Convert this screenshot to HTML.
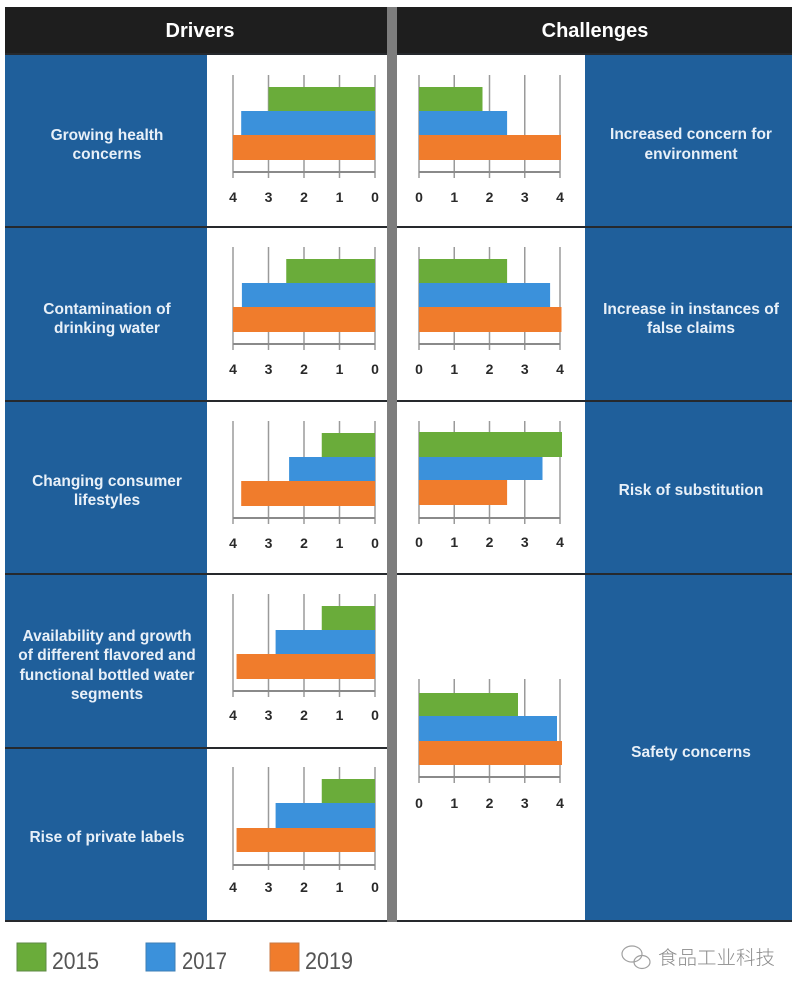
<!DOCTYPE html>
<html><head><meta charset="utf-8"><style>
html,body{margin:0;padding:0;background:#fff;}
svg{display:block;}
.lab{font-family:"Liberation Sans",sans-serif;font-weight:bold;font-size:15.5px;fill:#e8f0f8;text-anchor:middle;}
.hd{font-family:"Liberation Sans",sans-serif;font-weight:bold;font-size:20px;fill:#fff;text-anchor:middle;}
.tk{font-family:"Liberation Sans",sans-serif;font-size:14px;fill:#2a2a2a;text-anchor:middle;font-weight:bold;}
.lg{font-family:"Liberation Sans",sans-serif;font-size:24px;fill:#555;}
.wm{font-family:"Liberation Sans","Noto Sans CJK SC",sans-serif;font-size:19px;fill:#8c8c8c;font-weight:300;}
</style></head><body>
<svg width="800" height="993" viewBox="0 0 800 993" xmlns="http://www.w3.org/2000/svg">
<rect x="0" y="0" width="800" height="993" fill="#fff"/>
<!-- headers -->
<rect x="5" y="7" width="382" height="48" fill="#1e1e1e"/>
<rect x="397" y="7" width="395" height="48" fill="#1e1e1e"/>
<text class="hd" x="200" y="37">Drivers</text>
<text class="hd" x="595" y="37">Challenges</text>
<!-- divider -->
<rect x="387" y="7" width="10" height="915" fill="#7d7d7d"/>
<!-- left blue column -->
<rect x="5" y="55" width="202" height="866" fill="#1f5f9b"/>
<!-- right blue column -->
<rect x="585" y="55" width="207" height="866" fill="#1f5f9b"/>
<!-- separators -->
<g fill="#26292d">
<rect x="5" y="53" width="382" height="2"/>
<rect x="397" y="53" width="395" height="2"/>
<rect x="5" y="226" width="382" height="2"/>
<rect x="5" y="400" width="382" height="2"/>
<rect x="5" y="573" width="382" height="2"/>
<rect x="5" y="747" width="382" height="2"/>
<rect x="5" y="920" width="382" height="2"/>
<rect x="397" y="226" width="395" height="2"/>
<rect x="397" y="400" width="395" height="2"/>
<rect x="397" y="573" width="395" height="2"/>
<rect x="397" y="920" width="395" height="2"/>
</g>

<!-- LEFT CHARTS -->
<g id="L1">
<g stroke="#9a9a9a" stroke-width="1.5"><line x1="233" y1="75" x2="233" y2="178"/><line x1="268.5" y1="75" x2="268.5" y2="178"/><line x1="304" y1="75" x2="304" y2="178"/><line x1="339.5" y1="75" x2="339.5" y2="178"/><line x1="375" y1="75" x2="375" y2="178"/></g>
<rect x="268.5" y="87" width="106.5" height="24" fill="#6aac3a"/>
<rect x="241.2" y="111" width="133.8" height="24" fill="#3b91db"/>
<rect x="233" y="135" width="142" height="25" fill="#f07c2c"/>
<line x1="233" y1="172" x2="375" y2="172" stroke="#8a8a8a" stroke-width="2"/>
<text class="tk" x="233" y="202">4</text><text class="tk" x="268.5" y="202">3</text><text class="tk" x="304" y="202">2</text><text class="tk" x="339.5" y="202">1</text><text class="tk" x="375" y="202">0</text>
</g>
<g id="L2">
<g stroke="#9a9a9a" stroke-width="1.5"><line x1="233" y1="247" x2="233" y2="350"/><line x1="268.5" y1="247" x2="268.5" y2="350"/><line x1="304" y1="247" x2="304" y2="350"/><line x1="339.5" y1="247" x2="339.5" y2="350"/><line x1="375" y1="247" x2="375" y2="350"/></g>
<rect x="286.25" y="259" width="88.75" height="24" fill="#6aac3a"/>
<rect x="241.9" y="283" width="133.1" height="24" fill="#3b91db"/>
<rect x="233" y="307" width="142" height="25" fill="#f07c2c"/>
<line x1="233" y1="344" x2="375" y2="344" stroke="#8a8a8a" stroke-width="2"/>
<text class="tk" x="233" y="374">4</text><text class="tk" x="268.5" y="374">3</text><text class="tk" x="304" y="374">2</text><text class="tk" x="339.5" y="374">1</text><text class="tk" x="375" y="374">0</text>
</g>
<g id="L3">
<g stroke="#9a9a9a" stroke-width="1.5"><line x1="233" y1="421" x2="233" y2="524"/><line x1="268.5" y1="421" x2="268.5" y2="524"/><line x1="304" y1="421" x2="304" y2="524"/><line x1="339.5" y1="421" x2="339.5" y2="524"/><line x1="375" y1="421" x2="375" y2="524"/></g>
<rect x="321.75" y="433" width="53.25" height="24" fill="#6aac3a"/>
<rect x="289.1" y="457" width="85.9" height="24" fill="#3b91db"/>
<rect x="241.2" y="481" width="133.8" height="25" fill="#f07c2c"/>
<line x1="233" y1="518" x2="375" y2="518" stroke="#8a8a8a" stroke-width="2"/>
<text class="tk" x="233" y="548">4</text><text class="tk" x="268.5" y="548">3</text><text class="tk" x="304" y="548">2</text><text class="tk" x="339.5" y="548">1</text><text class="tk" x="375" y="548">0</text>
</g>
<g id="L4">
<g stroke="#9a9a9a" stroke-width="1.5"><line x1="233" y1="594" x2="233" y2="697"/><line x1="268.5" y1="594" x2="268.5" y2="697"/><line x1="304" y1="594" x2="304" y2="697"/><line x1="339.5" y1="594" x2="339.5" y2="697"/><line x1="375" y1="594" x2="375" y2="697"/></g>
<rect x="321.75" y="606" width="53.25" height="24" fill="#6aac3a"/>
<rect x="275.6" y="630" width="99.4" height="24" fill="#3b91db"/>
<rect x="236.55" y="654" width="138.45" height="25" fill="#f07c2c"/>
<line x1="233" y1="691" x2="375" y2="691" stroke="#8a8a8a" stroke-width="2"/>
<text class="tk" x="233" y="720">4</text><text class="tk" x="268.5" y="720">3</text><text class="tk" x="304" y="720">2</text><text class="tk" x="339.5" y="720">1</text><text class="tk" x="375" y="720">0</text>
</g>
<g id="L5">
<g stroke="#9a9a9a" stroke-width="1.5"><line x1="233" y1="767" x2="233" y2="870"/><line x1="268.5" y1="767" x2="268.5" y2="870"/><line x1="304" y1="767" x2="304" y2="870"/><line x1="339.5" y1="767" x2="339.5" y2="870"/><line x1="375" y1="767" x2="375" y2="870"/></g>
<rect x="321.75" y="779" width="53.25" height="24" fill="#6aac3a"/>
<rect x="275.6" y="803" width="99.4" height="25" fill="#3b91db"/>
<rect x="236.55" y="828" width="138.45" height="24" fill="#f07c2c"/>
<line x1="233" y1="865" x2="375" y2="865" stroke="#8a8a8a" stroke-width="2"/>
<text class="tk" x="233" y="892">4</text><text class="tk" x="268.5" y="892">3</text><text class="tk" x="304" y="892">2</text><text class="tk" x="339.5" y="892">1</text><text class="tk" x="375" y="892">0</text>
</g>

<!-- RIGHT CHARTS -->
<g id="R1">
<g stroke="#9a9a9a" stroke-width="1.5"><line x1="419" y1="75" x2="419" y2="178"/><line x1="454.25" y1="75" x2="454.25" y2="178"/><line x1="489.5" y1="75" x2="489.5" y2="178"/><line x1="524.75" y1="75" x2="524.75" y2="178"/><line x1="560" y1="75" x2="560" y2="178"/></g>
<rect x="419" y="87" width="63.5" height="24" fill="#6aac3a"/>
<rect x="419" y="111" width="88.1" height="24" fill="#3b91db"/>
<rect x="419" y="135" width="142" height="25" fill="#f07c2c"/>
<line x1="419" y1="172" x2="560" y2="172" stroke="#8a8a8a" stroke-width="2"/>
<text class="tk" x="419" y="202">0</text><text class="tk" x="454.25" y="202">1</text><text class="tk" x="489.5" y="202">2</text><text class="tk" x="524.75" y="202">3</text><text class="tk" x="560" y="202">4</text>
</g>
<g id="R2">
<g stroke="#9a9a9a" stroke-width="1.5"><line x1="419" y1="247" x2="419" y2="350"/><line x1="454.25" y1="247" x2="454.25" y2="350"/><line x1="489.5" y1="247" x2="489.5" y2="350"/><line x1="524.75" y1="247" x2="524.75" y2="350"/><line x1="560" y1="247" x2="560" y2="350"/></g>
<rect x="419" y="259" width="88.1" height="24" fill="#6aac3a"/>
<rect x="419" y="283" width="131.1" height="24" fill="#3b91db"/>
<rect x="419" y="307" width="142.5" height="25" fill="#f07c2c"/>
<line x1="419" y1="344" x2="560" y2="344" stroke="#8a8a8a" stroke-width="2"/>
<text class="tk" x="419" y="374">0</text><text class="tk" x="454.25" y="374">1</text><text class="tk" x="489.5" y="374">2</text><text class="tk" x="524.75" y="374">3</text><text class="tk" x="560" y="374">4</text>
</g>
<g id="R3">
<g stroke="#9a9a9a" stroke-width="1.5"><line x1="419" y1="421" x2="419" y2="524"/><line x1="454.25" y1="421" x2="454.25" y2="524"/><line x1="489.5" y1="421" x2="489.5" y2="524"/><line x1="524.75" y1="421" x2="524.75" y2="524"/><line x1="560" y1="421" x2="560" y2="524"/></g>
<rect x="419" y="432" width="143" height="25" fill="#6aac3a"/>
<rect x="419" y="457" width="123.5" height="23" fill="#3b91db"/>
<rect x="419" y="480" width="88.1" height="25" fill="#f07c2c"/>
<line x1="419" y1="518" x2="560" y2="518" stroke="#8a8a8a" stroke-width="2"/>
<text class="tk" x="419" y="547">0</text><text class="tk" x="454.25" y="547">1</text><text class="tk" x="489.5" y="547">2</text><text class="tk" x="524.75" y="547">3</text><text class="tk" x="560" y="547">4</text>
</g>
<g id="R4">
<g stroke="#9a9a9a" stroke-width="1.5"><line x1="419" y1="679" x2="419" y2="783"/><line x1="454.25" y1="679" x2="454.25" y2="783"/><line x1="489.5" y1="679" x2="489.5" y2="783"/><line x1="524.75" y1="679" x2="524.75" y2="783"/><line x1="560" y1="679" x2="560" y2="783"/></g>
<rect x="419" y="693" width="99" height="23" fill="#6aac3a"/>
<rect x="419" y="716" width="138" height="25" fill="#3b91db"/>
<rect x="419" y="741" width="143" height="24" fill="#f07c2c"/>
<line x1="419" y1="777" x2="560" y2="777" stroke="#8a8a8a" stroke-width="2"/>
<text class="tk" x="419" y="808">0</text><text class="tk" x="454.25" y="808">1</text><text class="tk" x="489.5" y="808">2</text><text class="tk" x="524.75" y="808">3</text><text class="tk" x="560" y="808">4</text>
</g>

<!-- LEFT LABELS -->
<text class="lab" x="107" y="140">Growing health</text>
<text class="lab" x="107" y="159">concerns</text>
<text class="lab" x="107" y="314">Contamination of</text>
<text class="lab" x="107" y="333">drinking water</text>
<text class="lab" x="107" y="486">Changing consumer</text>
<text class="lab" x="107" y="505">lifestyles</text>
<text class="lab" x="107" y="641">Availability and growth</text>
<text class="lab" x="107" y="660">of different flavored and</text>
<text class="lab" x="107" y="680">functional bottled water</text>
<text class="lab" x="107" y="699">segments</text>
<text class="lab" x="107" y="842">Rise of private labels</text>

<!-- RIGHT LABELS -->
<text class="lab" x="691" y="139">Increased concern for</text>
<text class="lab" x="691" y="159">environment</text>
<text class="lab" x="691" y="314">Increase in instances of</text>
<text class="lab" x="691" y="333">false claims</text>
<text class="lab" x="691" y="495">Risk of substitution</text>
<text class="lab" x="691" y="757">Safety concerns</text>

<!-- LEGEND -->
<rect x="17" y="943" width="29" height="28" fill="#6aac3a" stroke="#5f8a45" stroke-width="1"/>
<text class="lg" x="52" y="969" textLength="47" lengthAdjust="spacingAndGlyphs">2015</text>
<rect x="146" y="943" width="29" height="28" fill="#3b91db" stroke="#3f7fb5" stroke-width="1"/>
<text class="lg" x="182" y="969" textLength="45" lengthAdjust="spacingAndGlyphs">2017</text>
<rect x="270" y="943" width="29" height="28" fill="#f07c2c" stroke="#c87a45" stroke-width="1"/>
<text class="lg" x="305" y="969" textLength="48" lengthAdjust="spacingAndGlyphs">2019</text>

<!-- WATERMARK -->
<g fill="none" stroke="#a0a0a0" stroke-width="1.2">
<ellipse cx="632" cy="954" rx="10" ry="8"/>
<ellipse cx="642" cy="962" rx="8" ry="6.5"/>
</g>
<text class="wm" x="658" y="964" textLength="117" lengthAdjust="spacingAndGlyphs">食品工业科技</text>
</svg>
</body></html>
